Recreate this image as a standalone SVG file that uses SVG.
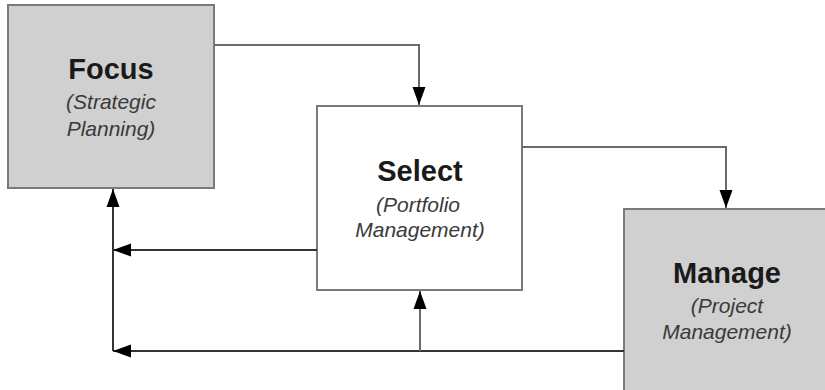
<svg xmlns="http://www.w3.org/2000/svg" width="825" height="390" viewBox="0 0 825 390">
  <style>
    .box { stroke: #7a7a7a; stroke-width: 2; }
    .shaded { fill: #d0d0d0; }
    .plain { fill: #ffffff; }
    .title { font-family: "Liberation Sans", Arial, sans-serif; font-weight: bold; font-size: 29px; fill: #1a1a1a; text-anchor: middle; }
    .sub { font-family: "Liberation Sans", Arial, sans-serif; font-style: italic; font-size: 21px; fill: #3a3a3a; text-anchor: middle; }
    .link { fill: none; stroke: #6a6a6a; stroke-width: 2; }
    .back { fill: none; stroke: #333333; stroke-width: 2; }
  </style>
  <defs>
    <marker id="arrow" viewBox="0 0 18 14" refX="18" refY="7" markerWidth="18" markerHeight="14" markerUnits="userSpaceOnUse" orient="auto">
      <path d="M0,0.5 L18,7 L0,13.5 Z" fill="#000000"/>
    </marker>
  </defs>
  <rect width="825" height="390" fill="#ffffff"/>

  <g id="focus">
    <rect class="box shaded" x="8" y="5" width="206" height="183"/>
    <text class="title" x="111" y="79">Focus</text>
    <text class="sub" x="111" y="109">(Strategic</text>
    <text class="sub" x="111" y="136">Planning)</text>
  </g>

  <g id="select">
    <rect class="box plain" x="317" y="106" width="205" height="184"/>
    <text class="title" x="420" y="181">Select</text>
    <text class="sub" x="418" y="212">(Portfolio</text>
    <text class="sub" x="420" y="237">Management)</text>
  </g>

  <g id="manage">
    <rect class="box shaded" x="624" y="209" width="206" height="186"/>
    <text class="title" x="727" y="283">Manage</text>
    <text class="sub" x="727" y="313">(Project</text>
    <text class="sub" x="727" y="339">Management)</text>
  </g>

  <g id="connectors">
    <path class="link" d="M214,45 H419 V105" marker-end="url(#arrow)"/>
    <path class="link" d="M522,147 H726 V208" marker-end="url(#arrow)"/>
    <path class="back" d="M317,250 H113" marker-end="url(#arrow)"/>
    <path class="back" d="M624,351 H113" marker-end="url(#arrow)"/>
    <path class="back" d="M113,351 V189" marker-end="url(#arrow)"/>
    <path class="link" d="M420,351 V291" marker-end="url(#arrow)"/>
  </g>
</svg>
